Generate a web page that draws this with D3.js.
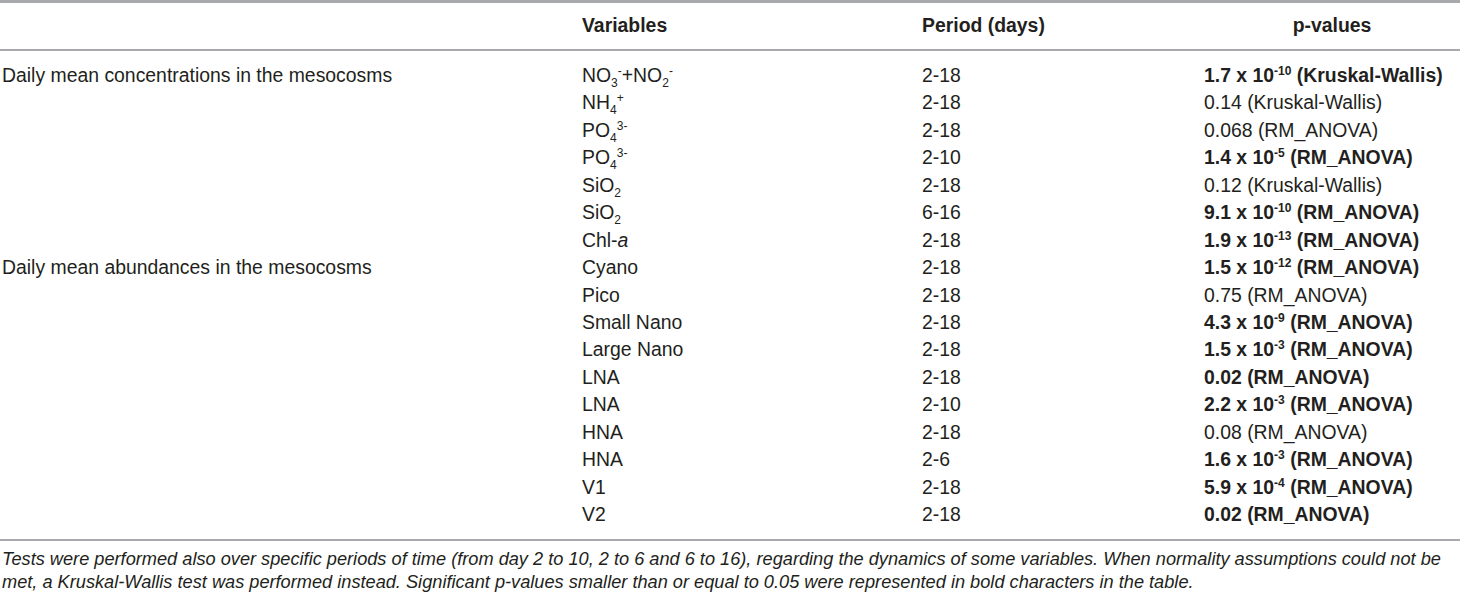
<!DOCTYPE html>
<html>
<head>
    <title>Statistical tests on mesocosm variables</title>
    <script src="https://d3js.org/d3.v7.min.js"></script>
    <style>
        body { margin: 0; background: #fff; }
        svg text { font-family: "Liberation Sans", Arial, sans-serif; fill: #231f20; }
    </style>
</head>
<body>
    <svg width="1460" height="595"></svg>

    <script>
    // table contents
    const headers = ["Variables", "Period (days)", "p-values"];
    const groups = [
        { label: "Daily mean concentrations in the mesocosms", start: 0 },
        { label: "Daily mean abundances in the mesocosms", start: 7 }
    ];
    const variables = [
        "NO_{3}^{-}+NO_{2}^{-}", "NH_{4}^{+}", "PO_{4}^{3-}", "PO_{4}^{3-}", "SiO_{2}", "SiO_{2}", "Chl-*a*",
        "Cyano", "Pico", "Small Nano", "Large Nano", "LNA", "LNA", "HNA", "HNA", "V1", "V2"
    ];
    const periods = [
        "2-18", "2-18", "2-18", "2-10", "2-18", "6-16", "2-18",
        "2-18", "2-18", "2-18", "2-18", "2-18", "2-10", "2-18", "2-6", "2-18", "2-18"
    ];
    const pValues = [
        "1.7 x 10^{-10} (Kruskal-Wallis)", "0.14 (Kruskal-Wallis)", "0.068 (RM_ANOVA)",
        "1.4 x 10^{-5} (RM_ANOVA)", "0.12 (Kruskal-Wallis)", "9.1 x 10^{-10} (RM_ANOVA)",
        "1.9 x 10^{-13} (RM_ANOVA)", "1.5 x 10^{-12} (RM_ANOVA)", "0.75 (RM_ANOVA)",
        "4.3 x 10^{-9} (RM_ANOVA)", "1.5 x 10^{-3} (RM_ANOVA)", "0.02 (RM_ANOVA)",
        "2.2 x 10^{-3} (RM_ANOVA)", "0.08 (RM_ANOVA)", "1.6 x 10^{-3} (RM_ANOVA)",
        "5.9 x 10^{-4} (RM_ANOVA)", "0.02 (RM_ANOVA)"
    ];
    const significant = [
        true, false, false, true, false, true, true, true, false,
        true, true, true, true, false, true, true, true
    ];
    const footnote = [
        "Tests were performed also over specific periods of time (from day 2 to 10, 2 to 6 and 6 to 16), regarding the dynamics of some variables. When normality assumptions could not be",
        "met, a Kruskal-Wallis test was performed instead. Significant p-values smaller than or equal to 0.05 were represented in bold characters in the table."
    ];

    const svg = d3.select("svg");
    const fontSize = 19.4;
    const colX = [2, 582, 922, 1204];

    const y = d3.scalePoint()
        .domain(d3.range(variables.length))
        .range([82, 521]);

    // split "_{..}" subscripts, "^{..}" superscripts and "*..*" italics into tspans
    function richText(sel, str) {
        const re = /(_\{[^}]*\}|\^\{[^}]*\}|\*[^*]*\*)/g;
        let shift = 0;
        str.split(re).filter(s => s !== "").forEach(part => {
            const t = sel.append("tspan");
            let target = 0;
            if (part.startsWith("_{")) {
                t.text(part.slice(2, -1)).attr("font-size", fontSize * 0.62);
                target = 5;
            } else if (part.startsWith("^{")) {
                t.text(part.slice(2, -1)).attr("font-size", fontSize * 0.62);
                target = -7;
            } else if (part.startsWith("*")) {
                t.text(part.slice(1, -1)).attr("font-style", "italic");
            } else {
                t.text(part);
            }
            t.attr("dy", target - shift);
            shift = target;
        });
    }

    // rules
    const rules = [
        { y: 1.5, w: 3 },
        { y: 50, w: 2 },
        { y: 540, w: 2 }
    ];
    svg.selectAll("line.rule")
        .data(rules)
        .enter().append("line")
        .attr("class", "rule")
        .attr("x1", 0).attr("x2", 1460)
        .attr("y1", d => d.y).attr("y2", d => d.y)
        .attr("stroke", "#a7a9ac")
        .attr("stroke-width", d => d.w);

    // header
    const headerPos = [
        { x: colX[1], anchor: "start" },
        { x: colX[2], anchor: "start" },
        { x: 1332, anchor: "middle" }
    ];
    svg.selectAll("text.header")
        .data(headers)
        .enter().append("text")
        .attr("class", "header")
        .attr("x", (d, i) => headerPos[i].x)
        .attr("text-anchor", (d, i) => headerPos[i].anchor)
        .attr("y", 32)
        .attr("font-size", fontSize)
        .attr("font-weight", "bold")
        .text(d => d);

    // group labels
    svg.selectAll("text.group")
        .data(groups)
        .enter().append("text")
        .attr("class", "group")
        .attr("x", colX[0])
        .attr("y", d => y(d.start))
        .attr("font-size", fontSize)
        .text(d => d.label);

    // variables
    svg.selectAll("text.var")
        .data(variables)
        .enter().append("text")
        .attr("class", "var")
        .attr("x", colX[1])
        .attr("y", (d, i) => y(i))
        .attr("font-size", fontSize)
        .each(function(d) { richText(d3.select(this), d); });

    // periods
    svg.selectAll("text.period")
        .data(periods)
        .enter().append("text")
        .attr("class", "period")
        .attr("x", colX[2])
        .attr("y", (d, i) => y(i))
        .attr("font-size", fontSize)
        .text(d => d);

    // p-values
    svg.selectAll("text.pval")
        .data(pValues)
        .enter().append("text")
        .attr("class", "pval")
        .attr("x", colX[3])
        .attr("y", (d, i) => y(i))
        .attr("font-size", fontSize)
        .attr("font-weight", (d, i) => significant[i] ? "bold" : "normal")
        .each(function(d) { richText(d3.select(this), d); });

    // footnote
    svg.selectAll("text.note")
        .data(footnote)
        .enter().append("text")
        .attr("class", "note")
        .attr("x", 2)
        .attr("y", (d, i) => 565 + i * 23)
        .attr("font-size", 18.2)
        .attr("font-style", "italic")
        .text(d => d);
    </script>
</body>
</html>
